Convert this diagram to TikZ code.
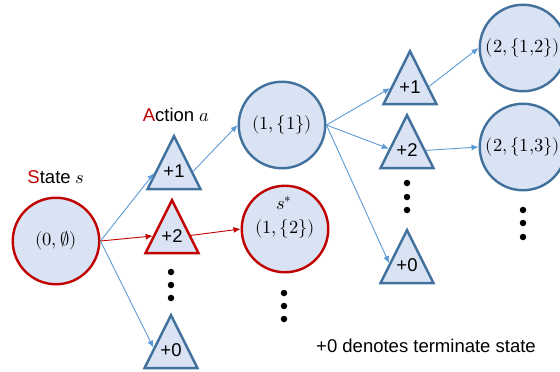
\documentclass[tikz,border=0pt]{standalone}
\usepackage{fontspec}
\usepackage{unicode-math}
\setmainfont{Liberation Sans}
\setmathfont{Latin Modern Math}
\usetikzlibrary{shapes.geometric,arrows.meta,calc}
\definecolor{fillb}{HTML}{DAE3F3}
\definecolor{edgeb}{HTML}{41719C}
\definecolor{redc}{HTML}{C00000}
\definecolor{arrb}{HTML}{5B9BD5}
\begin{document}
\begin{tikzpicture}[x=1pt,y=-1pt,
  txt/.style={font=\fontsize{18.5}{22}\selectfont, inner sep=0},
  st/.style={circle, draw=edgeb, fill=fillb, line width=2.4pt, minimum size=86.5pt, inner sep=0, font=\fontsize{18.5}{22}\selectfont},
  stred/.style={st, draw=redc},
  act/.style={isosceles triangle, isosceles triangle stretches, shape border rotate=90, draw=edgeb, fill=fillb, line width=2.4pt, minimum width=53pt, minimum height=53pt, inner sep=0, anchor=apex},
  actred/.style={act, draw=redc},
  arr/.style={draw=arrb, line width=0.9pt, -{Latex[length=7pt,width=6pt]}},
  arrred/.style={arr, draw=redc},
  dot/.style={circle, fill=black, inner sep=0, minimum size=6.5pt}]
\useasboundingbox (0,0) rectangle (560,372);
\clip (0,0) rectangle (560,372);

% states
\node[stred] (s0) at (56,241) {$(0,\emptyset)$};
\node[st] (c1) at (282,125) {$(1,\{1\})$};
\node[stred] (cs) at (285,229) {$(1,\{2\})$};
\node[st] (d1) at (523,48) {$(2,\{1{,}2\})$};
\node[st] (d2) at (523,147) {$(2,\{1{,}3\})$};

% actions
\node[act] (t1) at (174,133) {};
\node[actred] (t2) at (172,197) {};
\node[act] (t0) at (171,312) {};
\node[act] (u1) at (410,48) {};
\node[act] (u2) at (407,112) {};
\node[act] (u0) at (407,227) {};

\node[txt] (t1l) at (174,171) {+1};
\node[txt] (t2l) at (172,236) {+2};
\node[txt] (t0l) at (171,350) {+0};
\node[txt] (u1l) at (410,87) {+1};
\node[txt] (u2l) at (407,150) {+2};
\node[txt] (u0l) at (407,265) {+0};

% labels
\node[txt] (lstate) at (56,177) {\textcolor{redc}{S}tate $s$};
\node[txt] (laction) at (176,115) {\textcolor{redc}{A}ction $a$};
\node[txt] (lstar) at (284,203) {$s^*$};
\node[txt] (lnote) at (426,346) {+0 denotes terminate state};

% dots
\foreach \y [count=\i] in {272,285,298} \node[dot] (da\i) at (171,\y) {};
\foreach \y [count=\i] in {293,306,319} \node[dot] (db\i) at (284,\y) {};
\foreach \y [count=\i] in {183,197,210} \node[dot] (dc\i) at (407,\y) {};
\foreach \y [count=\i] in {210,223,237} \node[dot] (dd\i) at (523,\y) {};

% connectors
\draw[arr] (s0.east) -- ($(t1.apex)!0.7!(t1.left corner)$);
\draw[arrred] (s0.east) -- ($(t2.apex)!0.68!(t2.left corner)$);
\draw[arr] (s0.east) -- ($(t0.apex)!0.62!(t0.left corner)$);
\draw[arr] ($(t1.apex)!0.67!(t1.right corner)$) -- (c1.west);
\draw[arrred] ($(t2.apex)!0.67!(t2.right corner)$) -- (cs.west);
\draw[arr] (c1.east) -- ($(u1.apex)!0.7!(u1.left corner)$);
\draw[arr] (c1.east) -- ($(u2.apex)!0.64!(u2.left corner)$);
\draw[arr] (c1.east) -- ($(u0.apex)!0.63!(u0.left corner)$);
\draw[arr] ($(u1.apex)!0.67!(u1.right corner)$) -- (d1.west);
\draw[arr] ($(u2.apex)!0.67!(u2.right corner)$) -- (d2.west);
\end{tikzpicture}
\end{document}
